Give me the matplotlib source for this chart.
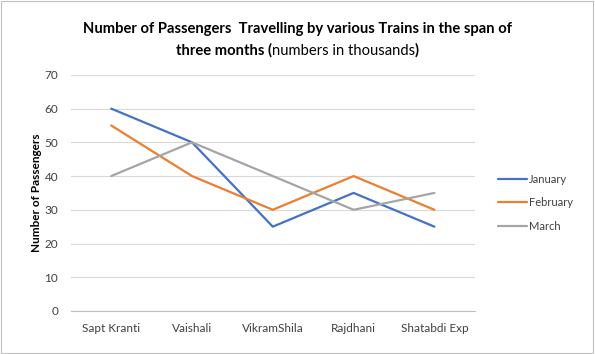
import matplotlib
matplotlib.use("Agg")
import matplotlib.pyplot as plt
from matplotlib.patches import Rectangle

trains = ["Sapt Kranti", "Vaishali", "VikramShila", "Rajdhani", "Shatabdi Exp"]
january = [60, 50, 25, 35, 25]
february = [55, 40, 30, 40, 30]
march = [40, 50, 40, 30, 35]
series_names = ["January", "February", "March"]
colors = ["#4472C4", "#ED7D31", "#A5A5A5"]
yticks = [0, 10, 20, 30, 40, 50, 60, 70]

plt.rcParams["font.family"] = ["Lato", "DejaVu Sans"]

fig = plt.figure(figsize=(5.95, 3.54), dpi=100)
fig.patches.append(Rectangle((0.002, 0.003), 0.995, 0.993, transform=fig.transFigure,
                             fill=False, edgecolor="#BFBFBF", linewidth=0.8))
ax = fig.add_axes([0.119, 0.1215, 0.679, 0.667])

x = list(range(len(trains)))
for name, vals, c in zip(series_names, [january, february, march], colors):
    ax.plot(x, vals, color=c, linewidth=1.6, label=name, solid_capstyle="round")

ax.set_xlim(-0.5, len(trains) - 0.5)
ax.set_ylim(0, 70)
ax.set_yticks(yticks)
ax.set_xticks(x)
ax.set_xticklabels(trains)
ax.yaxis.grid(True, color="#D9D9D9", linewidth=0.8)
ax.set_axisbelow(True)
for s in ["top", "right", "left"]:
    ax.spines[s].set_visible(False)
ax.spines["bottom"].set_color("#BFBFBF")
ax.tick_params(axis="both", length=0, labelsize=8.5, colors="#404040", pad=8.5)
ax.tick_params(axis="y", pad=9)
ax.set_ylabel("Number of Passengers", fontsize=8.5, fontweight="bold", color="#000000", labelpad=2)

leg = fig.legend(loc="center left", bbox_to_anchor=(0.82, 0.427), frameon=False,
                 fontsize=8, handlelength=2.6, handletextpad=0.2, labelspacing=1.1)
for t in leg.get_texts():
    t.set_color("#404040")

# Title
fig.text(0.5, 0.919, "Number of Passengers  Travelling by various Trains in the span of",
         ha="center", va="center", fontsize=10.6, fontweight="bold")
fig.canvas.draw()
r = fig.canvas.get_renderer()
parts = [("three months (", "bold"), ("numbers in thousands", "normal"), (")", "bold")]
texts = [fig.text(0, 0.857, p, ha="left", va="center", fontsize=10.6, fontweight=w) for p, w in parts]
widths = [t.get_window_extent(r).width for t in texts]
total = sum(widths)
xpix = fig.bbox.width / 2 - total / 2
for t, w in zip(texts, widths):
    t.set_x(xpix / fig.bbox.width)
    xpix += w

fig.savefig("out.png", dpi=100)
